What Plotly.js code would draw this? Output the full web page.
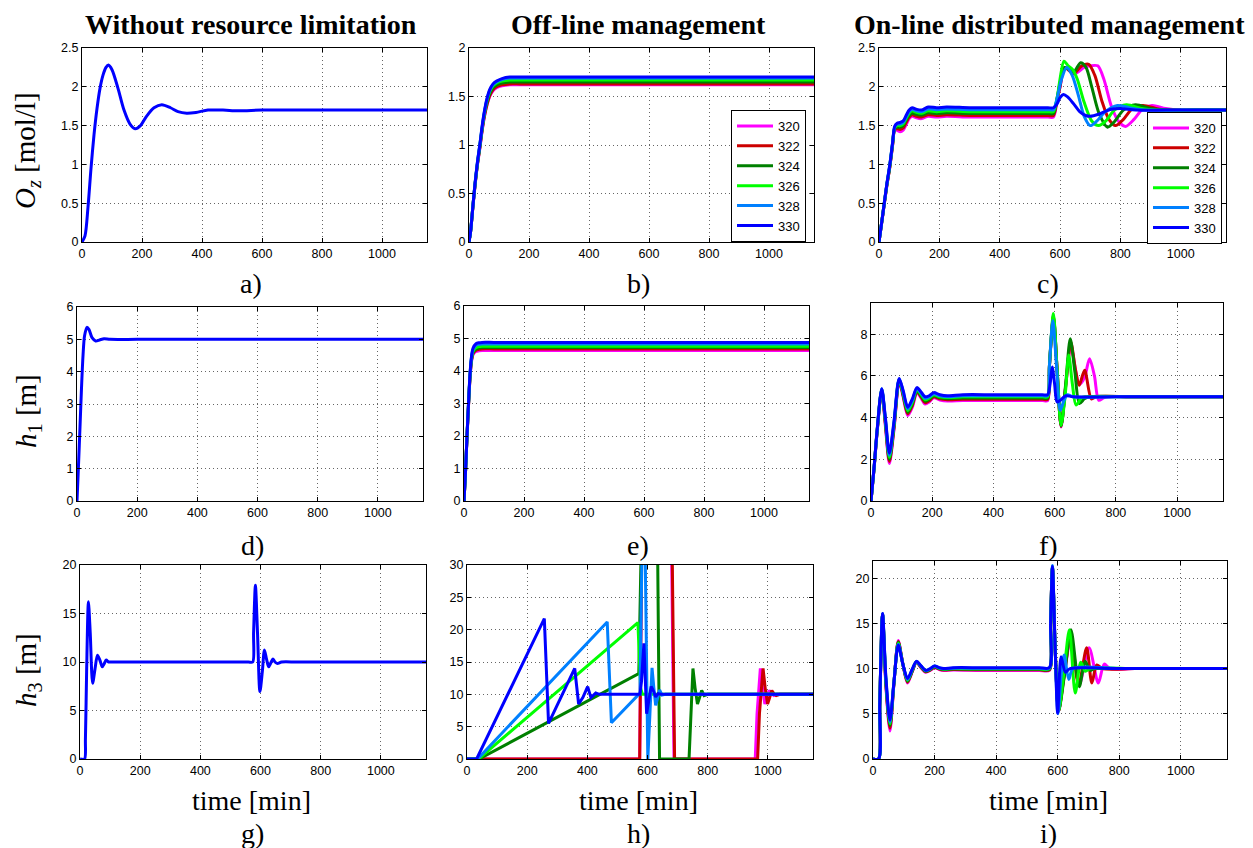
<!DOCTYPE html>
<html><head><meta charset="utf-8">
<script src="https://cdn.plot.ly/plotly-3.0.1.min.js"></script>
<style>html,body{margin:0;padding:0;background:#fff}#chart{width:1253px;height:848px}</style>
</head><body><div id="chart"></div>
<script>
// ---------------- DATA ----------------
const seriesNames = ['320','322','324','326','328','330'];

// a) Oz without resource limitation
const tA  = [0,10,20,30,40,50,60,70,80,88,100,120,140,160,177,195,215,240,266,295,320,349,380,420,470,520,600,700,850,1000,1150];
const ozA = [0,0.08,0.45,0.95,1.38,1.72,1.98,2.15,2.25,2.28,2.22,1.98,1.70,1.52,1.46,1.50,1.62,1.73,1.77,1.73,1.68,1.66,1.67,1.70,1.70,1.69,1.70,1.70,1.70,1.70,1.70];

// b) Oz off-line
const tB = [0,5,13,20,28,36,44,52,60,69,80,92,110,136,170,250,400,600,800,1000,1150];
const ozB320 = [0,0.1,0.36,0.58,0.79,0.96,1.15,1.30,1.41,1.50,1.56,1.59,1.61,1.62,1.62,1.62,1.62,1.62,1.62,1.62,1.62];
const ozB322 = [0,0.1,0.36,0.58,0.80,0.97,1.16,1.31,1.42,1.51,1.57,1.60,1.62,1.63,1.63,1.63,1.63,1.63,1.63,1.63,1.63];
const ozB324 = [0,0.1,0.37,0.59,0.80,0.98,1.17,1.33,1.44,1.53,1.59,1.62,1.64,1.65,1.65,1.65,1.65,1.65,1.65,1.65,1.65];
const ozB326 = [0,0.1,0.37,0.59,0.81,0.99,1.18,1.34,1.46,1.55,1.61,1.64,1.66,1.67,1.67,1.67,1.67,1.67,1.67,1.67,1.67];
const ozB328 = [0,0.1,0.37,0.60,0.82,1.00,1.19,1.35,1.47,1.56,1.62,1.65,1.675,1.69,1.69,1.69,1.69,1.69,1.69,1.69,1.69];
const ozB330 = [0,0.1,0.37,0.60,0.82,1.00,1.20,1.36,1.48,1.57,1.63,1.66,1.685,1.70,1.70,1.70,1.70,1.70,1.70,1.70,1.70];

// c) Oz on-line distributed
const tC320  = [0,13,25,36,45,52,60,70,80,91,100,110,124,141,163,191,224,300,400,500,560,578,590,600,616,648,680,700,725,745,770,795,817,845,875,905,950,1000,1075,1150];
const ozC320 = [0,0.36,0.70,0.97,1.24,1.44,1.44,1.42,1.44,1.52,1.59,1.62,1.60,1.59,1.62,1.61,1.62,1.61,1.61,1.61,1.61,1.61,1.82,2.00,2.24,2.17,2.25,2.27,2.27,2.10,1.75,1.55,1.49,1.58,1.72,1.76,1.72,1.70,1.70,1.70];
const tC322  = [0,13,25,36,45,52,60,70,80,91,100,110,124,141,163,191,224,300,400,500,560,578,590,600,615,645,672,695,715,740,762,784,810,840,875,930,980,1060,1150];
const ozC322 = [0,0.36,0.70,0.97,1.25,1.45,1.46,1.45,1.47,1.55,1.61,1.64,1.62,1.61,1.64,1.63,1.64,1.63,1.63,1.63,1.63,1.63,1.83,2.00,2.25,2.17,2.27,2.29,2.15,1.80,1.58,1.50,1.58,1.72,1.76,1.71,1.70,1.70,1.70];
const tC324  = [0,13,25,36,45,52,60,70,80,91,100,110,124,141,163,191,224,300,400,500,560,578,590,600,615,645,668,686,705,730,757,780,810,850,900,950,1050,1150];
const ozC324 = [0,0.37,0.71,0.98,1.26,1.46,1.48,1.48,1.50,1.58,1.63,1.66,1.645,1.635,1.665,1.655,1.665,1.655,1.655,1.655,1.655,1.655,1.85,2.05,2.25,2.19,2.31,2.25,2.00,1.65,1.48,1.55,1.70,1.77,1.72,1.70,1.70,1.70];
const tC326  = [0,13,25,36,45,52,60,70,80,91,100,110,124,141,163,191,224,300,400,500,560,578,590,600,613,627,642,657,680,705,728,752,780,820,870,920,1030,1150];
const ozC326 = [0,0.37,0.71,0.99,1.27,1.47,1.50,1.50,1.52,1.60,1.66,1.69,1.67,1.66,1.69,1.68,1.69,1.68,1.68,1.68,1.68,1.68,1.85,2.10,2.33,2.27,2.22,2.10,1.80,1.56,1.50,1.56,1.70,1.77,1.72,1.70,1.70,1.70];
const tC328  = [0,13,25,36,45,52,60,70,80,91,100,110,124,141,163,191,224,300,400,500,560,578,590,605,622,640,660,680,700,720,750,790,830,880,1000,1150];
const ozC328 = [0,0.37,0.72,1.00,1.28,1.48,1.52,1.52,1.54,1.62,1.68,1.71,1.69,1.68,1.715,1.705,1.715,1.705,1.705,1.705,1.705,1.705,1.85,2.10,2.25,2.15,1.90,1.62,1.50,1.55,1.68,1.76,1.73,1.70,1.70,1.70];
const tC330  = [0,13,25,36,45,52,60,70,80,91,100,110,124,141,163,191,224,300,400,500,560,578,590,600,611,625,645,665,685,700,730,770,800,850,950,1050,1150];
const ozC330 = [0,0.37,0.72,1.00,1.28,1.49,1.53,1.54,1.56,1.64,1.70,1.73,1.71,1.70,1.74,1.73,1.74,1.73,1.73,1.73,1.73,1.73,1.78,1.86,1.90,1.87,1.78,1.68,1.63,1.62,1.65,1.71,1.72,1.70,1.70,1.70,1.70];

// d) h1 without resource limitation
const tD  = [0,5,10,15,20,25,33,40,50,62,75,90,110,200,400,600,800,1000,1150];
const h1D = [0,1.1,2.3,3.5,4.5,5.1,5.37,5.3,5.05,4.95,4.98,5.02,5.0,5.0,5.0,5.0,5.0,5.0,5.0];

// e) h1 off-line
const tE = [0,5,10,15,20,25,30,40,50,60,100,300,600,900,1150];
const h1E320 = [0,0.88,1.95,2.92,3.77,4.28,4.50,4.60,4.62,4.63,4.63,4.63,4.63,4.63,4.63];
const h1E322 = [0,0.90,1.97,2.94,3.80,4.32,4.54,4.64,4.67,4.68,4.68,4.68,4.68,4.68,4.68];
const h1E324 = [0,0.90,1.98,2.96,3.82,4.35,4.57,4.68,4.71,4.72,4.72,4.72,4.72,4.72,4.72];
const h1E326 = [0,0.90,2.00,2.98,3.85,4.38,4.60,4.72,4.75,4.76,4.76,4.76,4.76,4.76,4.76];
const h1E328 = [0,0.90,2.00,3.00,3.88,4.42,4.66,4.79,4.82,4.83,4.83,4.83,4.83,4.83,4.83];
const h1E330 = [0,0.90,2.00,3.00,3.90,4.45,4.70,4.84,4.87,4.88,4.88,4.88,4.88,4.88,4.88];

// f) h1 on-line distributed
const tF320  = [0,10,20,35,47,60,75,92,105,120,135,150,165,177,190,205,225,250,300,400,500,560,577,583,596,608,621,636,653,668,680,697,714,730,744,760,775,850,1000,1150];
const h1F320 = [0,1.55,3.3,5.30,3.60,1.80,3.40,5.75,5.00,4.10,4.50,5.20,4.90,4.65,4.75,4.95,4.85,4.80,4.82,4.82,4.82,4.82,4.82,6.45,8.8,6.3,3.55,5.5,7.5,6.3,5.6,5.9,6.83,6.0,4.83,4.95,5.0,5.0,5.0,5.0];
const tF322  = [0,10,20,35,47,60,75,92,105,120,135,150,165,177,190,205,225,250,300,400,500,560,577,583,596,608,621,636,653,668,680,698,720,735,850,1000,1150];
const h1F322 = [0,1.56,3.32,5.32,3.70,1.90,3.50,5.78,5.06,4.18,4.58,5.25,4.96,4.72,4.81,5.00,4.90,4.86,4.88,4.88,4.88,4.88,4.88,6.5,8.85,6.3,3.58,5.5,7.6,6.3,5.55,6.27,4.9,5.0,5.0,5.0,5.0];
const tF324  = [0,10,20,35,47,60,75,92,105,120,135,150,165,177,190,205,225,250,300,400,500,560,577,583,596,608,621,636,651,666,681,697,712,850,1000,1150];
const h1F324 = [0,1.57,3.34,5.34,3.78,2.00,3.58,5.81,5.12,4.26,4.66,5.30,5.02,4.79,4.88,5.05,4.95,4.91,4.94,4.94,4.94,4.94,4.94,6.5,8.9,6.3,3.6,5.6,7.78,6.2,4.68,4.9,5.0,5.0,5.0,5.0];
const tF326  = [0,10,20,35,47,60,75,92,105,120,135,150,165,177,190,205,225,250,300,400,500,560,577,583,596,608,621,634,646,658,670,688,700,850,1000,1150];
const h1F326 = [0,1.58,3.36,5.36,3.86,2.10,3.66,5.84,5.18,4.34,4.74,5.35,5.08,4.86,4.94,5.10,5.00,4.96,5.00,5.00,5.00,5.00,5.00,6.5,9.0,6.3,3.63,5.0,7.0,5.6,4.6,4.95,5.0,5.0,5.0,5.0];
const tF328  = [0,10,20,35,47,60,75,92,105,120,135,150,165,177,190,205,225,250,300,400,500,560,577,583,594,606,618,630,642,660,800,1000,1150];
const h1F328 = [0,1.59,3.38,5.38,3.93,2.20,3.73,5.86,5.24,4.42,4.82,5.40,5.14,4.93,5.00,5.15,5.05,5.00,5.05,5.05,5.05,5.05,5.05,6.5,8.66,6.5,4.35,4.8,5.1,5.0,5.0,5.0,5.0];
const tF330  = [0,10,20,35,47,60,75,92,105,120,135,150,165,177,190,205,225,250,300,400,500,560,577,585,592,600,608,620,636,660,800,1000,1150];
const h1F330 = [0,1.60,3.40,5.39,4.00,2.30,3.80,5.88,5.30,4.50,4.90,5.44,5.20,5.00,5.05,5.20,5.10,5.05,5.10,5.10,5.10,5.10,5.10,5.6,6.43,5.6,4.75,4.85,5.05,5.0,5.0,5.0,5.0];

// g) h3 without resource limitation
const tG  = [0,15,18,22,28,34,42,50,58,66,74,80,87,95,105,150,250,400,520,560,574,577,583,590,598,606,613,620,627,634,641,648,656,670,720,850,1000,1150];
const h3G = [0,0,2,9,16.2,13,7.8,9.3,10.7,10.2,9.5,9.8,10.2,10.0,10.0,10,10,10,10,10,10.0,13,17.9,13,6.95,9,11.25,10.3,9.5,9.9,10.3,10.0,9.85,10,10,10,10,10];

// h) h3 off-line
const tH320  = [0,574,582,678,688,958,964,975,982,990,997,1004,1012,1020,1030,1150];
const h3H320 = [0,0,40,40,0,0,7,14,11,8.5,9.5,10.6,10.1,9.8,10,10];
const tH322  = [0,574,582,680,690,966,972,984,991,999,1006,1013,1020,1028,1040,1150];
const h3H322 = [0,0,40,40,0,0,7,14,11,8.5,9.5,10.6,10.1,9.8,10,10];
const tH324  = [0,40,571,576,582,632,640,738,744,751,758,766,773,780,788,800,1150];
const h3H324 = [0,0,13.2,25,40,40,0,0,7,14,11,8.5,9.5,10.6,9.8,10,10];
const tH326  = [0,38,568,577,583,1150];
const h3H326 = [0,0,21.1,11,10,10];
const tH328  = [0,35,466,480,575,584,590,601,608,615,621,627,634,640,648,660,1150];
const h3H328 = [0,0,21.2,5.6,10.2,40,40,0,7,14.1,11,8.3,9.5,10.7,9.9,10,10];
const tH330  = [0,32,257,271,358,371,385,401,412,428,440,575,580,588,597,605,612,620,627,635,645,1150];
const h3H330 = [0,0,21.7,5.5,14.0,8.5,9.5,11.2,9.5,10.2,10,10,12,17.9,7.0,9.5,11.2,10.5,9.6,10.1,10,10];

// i) h3 on-line distributed
const tI320  = [0,18,22,31,42,55,68,82,97,112,127,141,156,171,186,200,215,230,260,350,450,540,573,577,583,592,603,620,643,670,702,732,751,770,850,1000,1150];
const h3I320 = [0,0,5.8,16.0,8.0,3.1,8.3,13.1,10.5,8.4,9.6,10.7,10.1,9.6,9.8,10.1,9.9,9.8,9.85,9.8,9.8,9.8,9.8,15,21.2,12,5.3,9,13.3,8.2,12.3,8.4,10.5,10,10,10,10];
const tI322  = [0,18,22,31,42,55,68,82,97,112,127,141,156,171,186,200,215,230,260,350,450,540,573,577,583,592,603,620,642,668,694,711,727,745,850,1000,1150];
const h3I322 = [0,0,5.85,16.0,8.2,3.4,8.35,13.0,10.5,8.5,9.65,10.72,10.15,9.65,9.85,10.15,9.95,9.85,9.9,9.86,9.86,9.86,9.86,15,21.2,12,5.3,9,13.5,8.2,12.3,8.4,10.4,10,10,10,10];
const tI324  = [0,18,22,31,42,55,68,82,97,112,127,141,156,171,186,200,215,230,260,350,450,540,573,577,583,592,603,622,643,670,689,705,720,850,1000,1150];
const h3I324 = [0,0,5.9,16.0,8.4,3.7,8.4,12.9,10.5,8.6,9.7,10.74,10.2,9.7,9.9,10.2,10.0,9.9,9.95,9.92,9.92,9.92,9.92,15,21.2,12,5.3,9.3,14.3,8.0,10.8,9.8,10,10,10,10];
const tI326  = [0,18,22,31,42,55,68,82,97,112,127,141,156,171,186,200,215,230,260,350,450,540,573,577,583,592,603,620,638,657,675,690,705,850,1000,1150];
const h3I326 = [0,0,5.95,16.05,8.6,3.9,8.45,12.8,10.5,8.7,9.8,10.76,10.25,9.75,9.95,10.25,10.05,9.95,10.0,9.98,9.98,9.98,9.98,15,21.3,12,5.3,9.5,14.3,7.3,10.7,9.7,10,10,10,10];
const tI328  = [0,18,22,31,42,55,68,82,97,112,127,141,156,171,186,200,215,230,260,350,450,540,573,577,583,592,601,612,621,636,650,800,1000,1150];
const h3I328 = [0,0,6.0,16.1,8.8,4.1,8.5,12.7,10.5,8.8,9.85,10.78,10.28,9.78,9.98,10.28,10.08,9.98,10.05,10.04,10.04,10.04,10.04,15,21.4,12,5.0,9.5,11.5,8.8,10,10,10,10];
const tI330  = [0,18,22,31,42,55,68,82,97,112,127,141,156,171,186,200,215,230,260,350,450,540,573,577,583,592,600,611,625,640,800,1000,1150];
const h3I330 = [0,0,6.0,16.1,9.0,4.3,8.5,12.6,10.5,8.9,9.9,10.8,10.3,9.8,10.0,10.3,10.1,10.0,10.1,10.1,10.1,10.1,10.1,15,21.3,12,5.05,11.3,9.6,10,10,10,10];

// ---------------- STYLE ----------------
const W = 1253, H = 848;
const colors = ['#ff00ff','#cc0000','#008000','#00ff00','#0080ff','#0000ff'];
const blue = '#0000ff';

function tr(ax, x, y, color, name, shape, legend) {
  const t = {type:'scatter', mode:'lines', x:x, y:y, xaxis:'x'+ax, yaxis:'y'+ax,
    name:name, line:{color:color, width:3, shape:shape, smoothing:0.8},
    hoverinfo:'skip', showlegend: !!legend};
  if (legend) t.legend = legend;
  return t;
}

const traces = [];
traces.push(tr('', tA, ozA, blue, 'a', 'spline'));
[[tB,ozB320],[tB,ozB322],[tB,ozB324],[tB,ozB326],[tB,ozB328],[tB,ozB330]].forEach((p,i)=>traces.push(tr('2',p[0],p[1],colors[i],seriesNames[i],'spline','legend')));
[[tC320,ozC320],[tC322,ozC322],[tC324,ozC324],[tC326,ozC326],[tC328,ozC328],[tC330,ozC330]].forEach((p,i)=>traces.push(tr('3',p[0],p[1],colors[i],seriesNames[i],'spline','legend2')));
traces.push(tr('4', tD, h1D, blue, 'd', 'spline'));
[[tE,h1E320],[tE,h1E322],[tE,h1E324],[tE,h1E326],[tE,h1E328],[tE,h1E330]].forEach((p,i)=>traces.push(tr('5',p[0],p[1],colors[i],seriesNames[i],'spline')));
[[tF320,h1F320],[tF322,h1F322],[tF324,h1F324],[tF326,h1F326],[tF328,h1F328],[tF330,h1F330]].forEach((p,i)=>traces.push(tr('6',p[0],p[1],colors[i],seriesNames[i],'spline')));
traces.push(tr('7', tG, h3G, blue, 'g', 'spline'));
[[tH320,h3H320],[tH322,h3H322],[tH324,h3H324],[tH326,h3H326],[tH328,h3H328],[tH330,h3H330]].forEach((p,i)=>traces.push(tr('8',p[0],p[1],colors[i],seriesNames[i],'linear')));
[[tI320,h3I320],[tI322,h3I322],[tI324,h3I324],[tI326,h3I326],[tI328,h3I328],[tI330,h3I330]].forEach((p,i)=>traces.push(tr('9',p[0],p[1],colors[i],seriesNames[i],'spline')));

const tickFont = {family:'Liberation Sans, Arial, sans-serif', size:12.5, color:'#000'};
const common = {showline:true, linecolor:'#000', linewidth:1, mirror:'ticks', ticks:'inside', ticklen:4,
  tickcolor:'#000', showgrid:true, gridcolor:'#666', griddash:'1px,3px', gridwidth:1, zeroline:false,
  tickfont:tickFont, fixedrange:true};
function px(a,b){return [a/W, b/W];}
function py(top,bot){return [1-bot/H, 1-top/H];}
function xa(dom, anchor){return Object.assign({}, common, {domain:dom, anchor:anchor, range:[0,1150], tick0:0, dtick:200});}
function ya(dom, anchor, range, dtick){return Object.assign({}, common, {domain:dom, anchor:anchor, range:range, tick0:0, dtick:dtick});}

const serif = 'Liberation Serif, Times New Roman, serif';
function ann(text, x, y, size, angle){
  return {text:text, x:x/W, y:1-y/H, xref:'paper', yref:'paper', showarrow:false,
    xanchor:'center', yanchor:'middle', textangle:angle||0, font:{family:serif, size:size, color:'#000'}};
}

const legendBase = {bgcolor:'#fff', bordercolor:'#000', borderwidth:1, xanchor:'right', yanchor:'middle',
  font:{family:'Liberation Sans, Arial, sans-serif', size:13, color:'#000'}, tracegroupgap:0, itemwidth:36};

const layout = {
  width:W, height:H, margin:{l:0,r:0,t:0,b:0,pad:0},
  paper_bgcolor:'#fff', plot_bgcolor:'#fff', showlegend:true,
  legend: Object.assign({}, legendBase, {x:806/W, y:1-176/H}),
  legend2: Object.assign({}, legendBase, {x:1222/W, y:1-178/H}),
  xaxis:  xa(px(82,427),'y'),   yaxis:  ya(py(48,242),'x',[0,2.5],0.5),
  xaxis2: xa(px(469,814),'y2'), yaxis2: ya(py(48,242),'x2',[0,2],0.5),
  xaxis3: xa(px(879,1226),'y3'),yaxis3: ya(py(48,242),'x3',[0,2.5],0.5),
  xaxis4: xa(px(77,423),'y4'),  yaxis4: ya(py(307,501),'x4',[0,6],1),
  xaxis5: xa(px(464,809),'y5'), yaxis5: ya(py(306,501),'x5',[0,6],1),
  xaxis6: xa(px(871,1223),'y6'),yaxis6: ya(py(303,501),'x6',[0,9.5],2),
  xaxis7: xa(px(80,426),'y7'),  yaxis7: ya(py(565,759),'x7',[0,20],5),
  xaxis8: xa(px(467,813),'y8'), yaxis8: ya(py(565,759),'x8',[0,30],5),
  xaxis9: xa(px(873,1227),'y9'),yaxis9: ya(py(561,759),'x9',[0,21.9],5),
  annotations: [
    ann('<b>Without resource limitation</b>', 251, 25, 28),
    ann('<b>Off-line management</b>', 638, 25, 28),
    ann('<b>On-line distributed management</b>', 1049, 25, 28),
    ann('<i>O</i><sub><i>z</i></sub> [mol/l]', 27, 151, 29, -90),
    ann('<i>h</i><sub>1</sub> [m]', 28, 411, 29, -90),
    ann('<i>h</i><sub>3</sub> [m]', 28, 670, 29, -90),
    ann('a)', 251, 283, 28), ann('b)', 638, 283, 28), ann('c)', 1048, 283, 28),
    ann('d)', 252, 545, 28), ann('e)', 638, 545, 28), ann('f)', 1048, 545, 28),
    ann('time [min]', 251, 800, 28), ann('time [min]', 638, 800, 28), ann('time [min]', 1048, 800, 28),
    ann('g)', 252, 833, 28), ann('h)', 638, 833, 28), ann('i)', 1048, 833, 28)
  ]
};

Plotly.newPlot('chart', traces, layout, {staticPlot:true, displayModeBar:false});
</script></body></html>
